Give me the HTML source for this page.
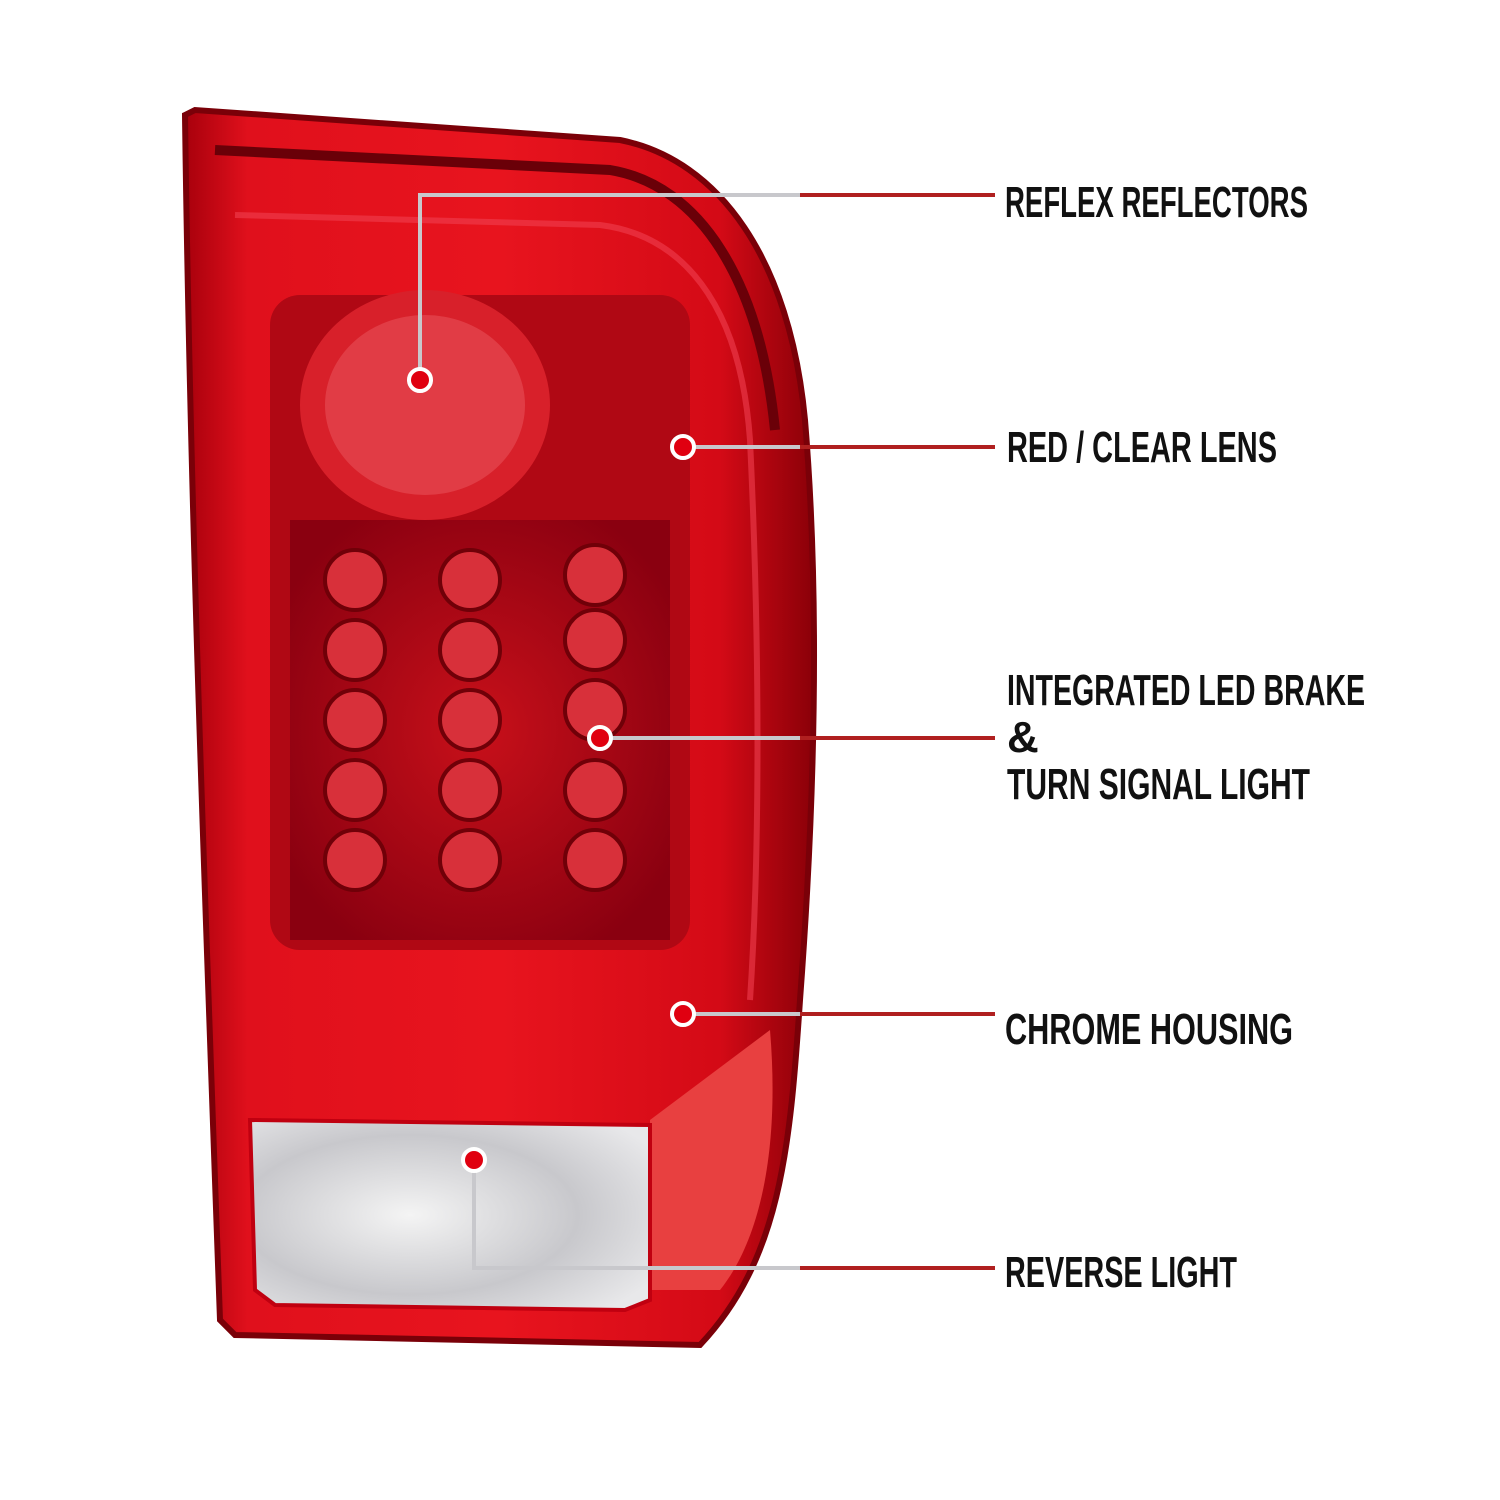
<!DOCTYPE html>
<html><head><meta charset="utf-8"><style>
html,body{margin:0;padding:0;background:#fff;}
svg{display:block}
text{font-family:"Liberation Sans Narrow","Liberation Sans",sans-serif;font-weight:bold;fill:#111;font-size:44px}
</style></head><body>
<svg width="1500" height="1500" viewBox="0 0 1500 1500" xmlns="http://www.w3.org/2000/svg">
<defs>
<linearGradient id="body" x1="0" y1="0" x2="1" y2="0">
<stop offset="0" stop-color="#a8000c"/><stop offset="0.1" stop-color="#e0101c"/>
<stop offset="0.5" stop-color="#e8141e"/><stop offset="0.85" stop-color="#d40a16"/><stop offset="1" stop-color="#8a0008"/>
</linearGradient>
<radialGradient id="led" cx="0.5" cy="0.5" r="0.6">
<stop offset="0" stop-color="#c8101a"/><stop offset="1" stop-color="#8a0010"/>
</radialGradient>
<radialGradient id="clear" cx="0.4" cy="0.5" r="0.7">
<stop offset="0" stop-color="#f4f4f4"/><stop offset="0.6" stop-color="#c8c8cc"/><stop offset="1" stop-color="#e8e8ea"/>
</radialGradient>
</defs>
<!-- outer body -->
<path d="M185,115 L195,110 L620,140 C720,160 790,260 805,420 C820,600 815,800 800,1000 C790,1150 780,1260 700,1345 L235,1335 L220,1320 C205,900 190,500 185,115 Z" fill="url(#body)" stroke="#7a0008" stroke-width="6"/>
<path d="M215,150 L610,170 C700,185 760,280 775,430" fill="none" stroke="#6a0008" stroke-width="10"/>
<path d="M235,215 L600,225 C680,235 740,300 750,440 C760,650 760,850 750,1000" fill="none" stroke="#f04050" stroke-width="6" opacity="0.6"/>
<!-- reflector/LED area -->
<rect x="270" y="295" width="420" height="655" rx="30" fill="#b00814"/>
<ellipse cx="425" cy="405" rx="125" ry="115" fill="#d8202a"/>
<ellipse cx="425" cy="405" rx="100" ry="90" fill="#e85058" opacity="0.6"/>
<rect x="290" y="520" width="380" height="420" fill="url(#led)"/>
<g fill="#d8303a" stroke="#700008" stroke-width="4">
<circle cx="355" cy="580" r="30"/><circle cx="470" cy="580" r="30"/><circle cx="595" cy="575" r="30"/>
<circle cx="355" cy="650" r="30"/><circle cx="470" cy="650" r="30"/><circle cx="595" cy="640" r="30"/>
<circle cx="355" cy="720" r="30"/><circle cx="470" cy="720" r="30"/><circle cx="595" cy="710" r="30"/>
<circle cx="355" cy="790" r="30"/><circle cx="470" cy="790" r="30"/><circle cx="595" cy="790" r="30"/>
<circle cx="355" cy="860" r="30"/><circle cx="470" cy="860" r="30"/><circle cx="595" cy="860" r="30"/>
</g>
<!-- lower amber/red corner -->
<path d="M650,1120 L770,1030 C780,1150 760,1240 720,1290 L650,1290 Z" fill="#e84040"/>
<!-- clear reverse section -->
<path d="M250,1120 L650,1125 L650,1300 L625,1310 L275,1305 L255,1290 Z" fill="url(#clear)" stroke="#c00010" stroke-width="4"/>
<!-- connectors -->
<g fill="none" stroke-width="4">
<path d="M420,380 L420,195 L995,195" stroke="#c8c8cc"/><path d="M800,195 L995,195" stroke="#b02020"/>
<path d="M683,447 L995,447" stroke="#c8c8cc"/><path d="M800,447 L995,447" stroke="#b02020"/>
<path d="M600,738 L995,738" stroke="#c8c8cc"/><path d="M800,738 L995,738" stroke="#b02020"/>
<path d="M683,1014 L995,1014" stroke="#c8c8cc"/><path d="M800,1014 L995,1014" stroke="#b02020"/>
<path d="M474,1160 L474,1268 L995,1268" stroke="#c8c8cc"/><path d="M800,1268 L995,1268" stroke="#b02020"/>
</g>
<g fill="#e00010" stroke="#fff" stroke-width="4">
<circle cx="420" cy="380" r="11"/><circle cx="683" cy="447" r="11"/><circle cx="600" cy="738" r="11"/>
<circle cx="683" cy="1014" r="11"/><circle cx="474" cy="1160" r="11"/>
</g>
<text x="1005" y="217" textLength="303" lengthAdjust="spacingAndGlyphs">REFLEX REFLECTORS</text>
<text x="1007" y="462" textLength="270" lengthAdjust="spacingAndGlyphs">RED / CLEAR LENS</text>
<text x="1007" y="705" textLength="358" lengthAdjust="spacingAndGlyphs">INTEGRATED LED BRAKE</text>
<text x="1007" y="752">&amp;</text>
<text x="1007" y="799" textLength="303" lengthAdjust="spacingAndGlyphs">TURN SIGNAL LIGHT</text>
<text x="1005" y="1044" textLength="288" lengthAdjust="spacingAndGlyphs">CHROME HOUSING</text>
<text x="1005" y="1287" textLength="232" lengthAdjust="spacingAndGlyphs">REVERSE LIGHT</text>
</svg>
</body></html>
